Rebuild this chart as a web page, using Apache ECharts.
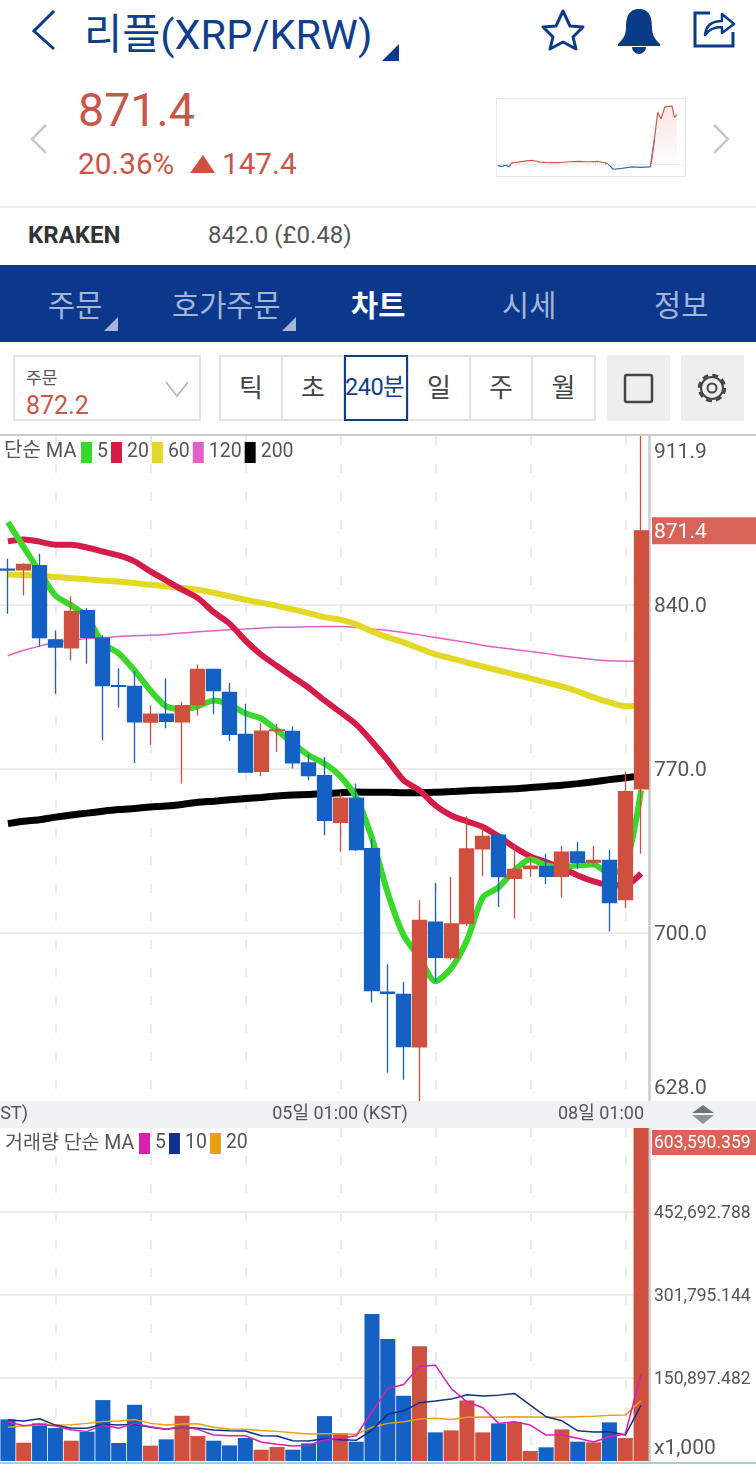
<!DOCTYPE html>
<html lang="ko">
<head>
<meta charset="UTF-8">
<title>리플(XRP/KRW)</title>
<style>
    html, body { margin: 0; padding: 0; background: #fff; }
    body { position: relative; width: 756px; height: 1464px; overflow: hidden;
           font-family: Roboto, "Noto Sans CJK KR", sans-serif; }
    .abs { position: absolute; white-space: nowrap; line-height: 1; }
    .tri { position: absolute; clip-path: polygon(100% 0, 100% 100%, 0 100%); }
    .tab { position: absolute; top: 290px; font-size: 29.5px; line-height: 32px; color: #a3b6da; white-space: nowrap; }
    .cell { position: absolute; top: 355px; height: 66px; box-sizing: border-box; border: 2px solid #e2e2e2;
            font-size: 26px; line-height: 62px; text-align: center; color: #444; }
    .grey { position: absolute; top: 355px; width: 63px; height: 66px; background: #eee; }
    svg { position: absolute; overflow: visible; }
</style>
</head>
<body>
<!--header-->
<svg style="left:0;top:0" width="1" height="1"><path d="M54 11 L34 31 L54 49" fill="none" stroke="#0b3a86" stroke-width="3"/></svg>
<div class="abs" id="title" style="left:84px;top:15px;font-size:41.5px;line-height:40px;color:#0f3f8c">리플(XRP/KRW)</div>
<div class="tri" style="left:382px;top:44px;width:17px;height:17px;background:#0b3a86"></div>
<svg style="left:0;top:0" width="1" height="1">
    <path d="M563 11 L570 26 L583 27 L573 37 L576 49 L563 42 L550 49 L553 37 L543 27 L556 26 Z" fill="none" stroke="#0b3a86" stroke-width="3" stroke-linejoin="round"/>
    <path d="M639 9 C650 9 652 18 652 28 C652 36 656 40 660 44 L660 46 L618 46 L618 44 C622 40 626 36 626 28 C626 18 628 9 639 9 Z" fill="#0b3a86"/>
    <path d="M632 47 A7 7 0 0 0 646 47 Z" fill="#0b3a86"/>
    <path d="M710 13 L695 13 L695 46 L733 46 L733 32" fill="none" stroke="#0b3a86" stroke-width="3"/>
    <path d="M705 35 C706 25 713 21 722 21 L722 14 L734 24 L722 33 L722 27 C714 27 709 29 705 35 Z" fill="none" stroke="#0b3a86" stroke-width="2.5" stroke-linejoin="round"/>
</svg>

<!--price-->
<svg style="left:0;top:0" width="1" height="1">
    <path d="M46 125 L32 139 L46 153" fill="none" stroke="#c4c8cc" stroke-width="2.5"/>
    <path d="M714 125 L728 139 L714 153" fill="none" stroke="#c4c8cc" stroke-width="2.5"/>
</svg>
<div class="abs" style="left:78px;top:87px;font-size:46.5px;color:#c9564b">871.4</div>
<div class="abs" style="left:78px;top:149px;font-size:29.7px;color:#c9564b">20.36%</div>
<svg style="left:0;top:0" width="1" height="1"><path d="M203 155 L215 173 L190 173 Z" fill="#d05040"/></svg>
<div class="abs" style="left:222px;top:149px;font-size:29.7px;color:#c9564b">147.4</div>
<div id="spark" style="position:absolute;left:496px;top:98px;width:190px;height:79px;box-sizing:border-box;border:1px solid #e8e8e8"></div>

<div class="abs" style="left:0;top:206px;width:756px;height:2px;background:#eee"></div>
<div class="abs" style="left:28px;top:222px;font-size:24px;line-height:27px;font-weight:700;color:#333">KRAKEN</div>
<div class="abs" style="left:208px;top:222px;font-size:24px;line-height:27px;color:#555">842.0 (£0.48)</div>

<!--tabs-->
<div class="abs" style="left:0;top:265px;width:756px;height:77px;background:#0b388a"></div>
<div class="tab" style="left:48px">주문</div>
<div class="tri" style="left:104px;top:317px;width:14px;height:14px;background:#a3b6da"></div>
<div class="tab" style="left:172px">호가주문</div>
<div class="tri" style="left:282px;top:317px;width:14px;height:14px;background:#a3b6da"></div>
<div class="tab" style="left:351px;color:#fff;font-weight:700">차트</div>
<div class="tab" style="left:502px">시세</div>
<div class="tab" style="left:654px">정보</div>

<!--toolbar-->
<div class="abs" style="left:13px;top:355px;width:188px;height:66px;box-sizing:border-box;border:2px solid #e2e2e2"></div>
<div class="abs" style="left:26px;top:370px;font-size:17px;color:#555">주문</div>
<div class="abs" style="left:26px;top:393px;font-size:25px;color:#c9564b">872.2</div>
<svg style="left:0;top:0" width="1" height="1"><path d="M166 382 L177 396 L188 382" fill="none" stroke="#b5b9be" stroke-width="1.8"/></svg>
<div class="cell" style="left:219px;width:64px">틱</div>
<div class="cell" style="left:281px;width:64px">초</div>
<div class="cell" style="left:407px;width:64px">일</div>
<div class="cell" style="left:469px;width:64px">주</div>
<div class="cell" style="left:531px;width:65px">월</div>
<div class="cell" style="left:344px;width:64px;border-color:#0f3f8c"></div>
<div class="abs" style="left:345px;top:376px;font-size:23.5px;letter-spacing:-.5px;color:#0f3f8c">240분</div>
<div class="grey" style="left:607px"></div>
<div class="grey" style="left:681px"></div>
<svg style="left:0;top:0" width="1" height="1">
    <rect x="625" y="375" width="27" height="27" rx="2" fill="none" stroke="#444" stroke-width="2.5"/>
    <circle cx="712" cy="388" r="4.5" fill="none" stroke="#444" stroke-width="2"/>
    <circle cx="712" cy="388" r="11" fill="none" stroke="#444" stroke-width="2"/>
    <circle cx="712" cy="388" r="13" fill="none" stroke="#444" stroke-width="2.5" stroke-dasharray="6 4.2"/>
</svg>

<div class="abs" style="left:0;top:434px;width:756px;height:2px;background:#ccc"></div>
<div id="main" style="position:absolute;left:0;top:436px;width:756px;height:1028px"></div>
<svg style="left:0;top:0" width="1" height="1">
    <path d="M703 1105 L714 1113 L692 1113 Z" fill="#6e7378"/>
    <path d="M703 1124 L714 1115 L692 1115 Z" fill="#8d9297"/>
</svg>
<div class="abs" style="left:0;top:1462px;width:756px;height:2px;background:#a9cdd2"></div>

<script src="https://cdn.jsdelivr.net/npm/echarts@6/dist/echarts.min.js"></script>
<script>
    var categories = ['01일 13:00','01일 17:00','01일 21:00','02일 01:00','02일 05:00','02일 09:00','02일 13:00','02일 17:00','02일 21:00',
        '03일 01:00','03일 05:00','03일 09:00','03일 13:00','03일 17:00','03일 21:00','04일 01:00','04일 05:00','04일 09:00','04일 13:00','04일 17:00','04일 21:00',
        '05일 01:00','05일 05:00','05일 09:00','05일 13:00','05일 17:00','05일 21:00','06일 01:00','06일 05:00','06일 09:00','06일 13:00','06일 17:00','06일 21:00',
        '07일 01:00','07일 05:00','07일 09:00','07일 13:00','07일 17:00','07일 21:00','08일 01:00','08일 05:00'];

    var opens = [855.1,854.8,856.5,824.9,821.5,837.3,825.6,805.3,805.0,789.8,793.2,789.9,797.2,812.3,802.4,784.5,768.7,786.1,785.8,772.3,766.9,
        747.0,757.3,735.7,674.5,673.5,651.1,704.4,689.2,703.7,735.7,741.5,723.1,727.2,728.2,723.9,734.3,730.0,730.7,714.0,761.3];
    var closes = [854.7,857.1,825.8,821.8,837.0,825.9,805.3,805.0,789.9,793.1,790.1,796.8,812.3,803.2,784.5,768.4,785.9,786.4,772.4,766.9,747.8,
        757.3,735.3,675.1,674.0,651.2,705.1,689.3,703.6,735.6,741.0,723.8,726.9,728.3,723.9,734.2,729.9,730.7,712.7,760.1,871.4];
    var highs = [859.5,857.6,861.6,828.9,843.4,838.4,826.8,812.8,811.5,796.9,808.5,798.5,814.4,812.4,806.4,797.6,789.3,789.1,787.9,776.0,774.8,
        759.6,763.5,740.0,686.4,678.8,713.7,721.2,723.6,749.6,745.0,741.6,737.1,731.7,733.6,737.0,738.6,737.0,735.3,768.7,911.9];
    var lows = [836.0,843.8,822.1,801.9,816.1,814.7,782.0,795.9,772.3,780.1,787.1,763.5,792.6,793.1,781.7,768.3,766.6,777.0,769.9,764.9,741.4,
        734.3,734.7,670.0,640.1,637.1,628.0,678.8,688.4,702.7,724.0,710.8,705.9,723.6,720.5,714.8,727.2,728.6,700.4,710.4,733.6];

    var ma5 = [875.1,864.5,853.8,843.8,839.6,834.6,823.4,819.1,811.8,803.3,796.5,795.2,796.5,799.0,797.3,793.5,791.3,786.2,780.7,775.6,772.1,
        766.6,757.6,740.1,716.7,698.7,689.3,679.1,684.6,696.6,714.9,719.2,726.5,731.2,728.6,727.8,728.6,729.0,725.2,728.2,760.6];
    var ma20 = [866.9,867.7,866.8,865.5,865.5,864.3,862.6,860.9,858.4,854.1,850.2,846.3,842.7,836.7,831.8,824.6,818.5,813.7,809.0,804.4,799.0,
        794.0,788.8,781.5,773.4,764.9,760.6,754.2,749.9,747.4,745.0,741.0,736.3,732.4,730.0,727.3,724.3,721.8,720.1,720.1,725.2];
    var ma60 = [852.8,852.5,852.2,851.7,851.2,850.7,850.2,849.8,849.1,848.4,847.7,847.0,846.3,845.0,843.5,842.0,840.7,839.4,837.9,836.3,834.6,
        833.5,831.5,828.5,825.9,823.8,821.2,818.7,817.0,815.2,813.5,811.8,810.1,808.4,806.7,805.0,802.9,800.3,798.2,796.5,796.9];
    var ma120 = [818.1,820.4,822.2,823.7,824.6,825.4,825.8,826.3,826.6,826.8,827.2,827.8,828.3,828.8,829.2,829.5,829.9,830.2,830.3,830.5,830.6,
        830.6,830.2,829.5,828.9,828.0,827.0,825.9,824.8,823.8,822.5,821.6,820.8,819.9,819.1,818.0,817.2,816.5,815.9,815.7,815.9];
    var ma200 = [746.4,747.4,748.1,749.2,750.1,750.9,751.7,752.4,752.9,753.5,753.9,754.6,755.5,756.0,756.6,757.1,757.6,758.2,758.6,758.9,759.2,
        759.6,759.9,759.8,759.8,759.6,759.6,759.8,760.1,760.5,760.7,761.0,761.3,761.8,762.3,762.8,763.5,764.3,765.2,766.0,766.8];

    var volumes = [75400,33200,68200,59700,36800,53100,110400,32600,101900,27800,39200,82000,45200,36800,28300,41600,20500,25300,20500,32000,81400,
        50700,35000,266600,221300,118200,208100,51900,55500,109800,51900,68200,70600,18100,24800,57300,35000,33800,70000,41600,603590.359];
    var volMa5 = [71100,63900,66400,63300,56100,53700,65100,59200,68200,62100,57400,62100,57400,47000,45800,45800,34400,30200,27100,28400,38000,
        41100,45800,89200,131500,138800,171900,173700,131500,107300,96400,68200,71100,65100,47000,47000,41100,34400,44000,48900,157400];
    var volMa10 = [74200,72400,76500,65100,59200,59200,66400,65100,66400,61000,57400,61000,59200,56100,54800,54300,45800,45200,36700,36200,40300,
        38500,37500,56100,85000,91000,105500,108600,112200,120000,117600,119400,122500,101300,80200,72900,54800,52500,53000,47000,101300];
    var volMa20 = [61000,63300,65100,65100,65700,68200,71800,72400,75400,68200,65100,66900,67500,61000,57900,57400,55500,53700,51200,48900,49400,
        49400,48300,61000,68200,71100,76000,77300,75400,79100,79600,79100,80200,79600,79100,79600,80200,80900,82700,83200,109100];

    var priceTicks = [628, 700, 770, 840, 871.4, 911.9];
    var priceGrid = [700, 770, 840];
    var volTicks = [0, 150897.482, 301795.144, 452692.788, 603590.359];
    var volTickLabels = ['x1,000', '150,897.482', '301,795.144', '452,692.788', '603,590.359'];

    var sparkTimes = [2,10,18,25,32,45,60,75,90,110,130,150,170,190,210,225,235,242,260,280,300,320,328,335,342,350,365,370,375];
    var sparkValues = [721.1,717.2,722.0,716.2,729.0,730.9,734.8,735.8,730.9,729.0,729.0,731.9,732.8,731.9,732.8,729.0,721.1,709.3,712.2,716.2,715.2,716.2,797.5,880.8,861.2,897.5,899.5,866.0,874.0];
    var prevClose = 724;

    var red = '#d05040', blue = '#1560c4', labelColor = '#555';
    var font = 'Roboto, "Noto Sans CJK KR", sans-serif';

    function maLine(name, data, color, width, xIdx) {
        return {
            name: name, type: 'line', data: data, xAxisIndex: xIdx, yAxisIndex: xIdx,
            showSymbol: false, silent: true, z: xIdx == 0 ? 2 : 4,
            smooth: xIdx == 0 ? 0.25 : false,
            itemStyle: {color: color},
            lineStyle: {color: color, width: width}
        };
    }

    function dashedSplit() {
        return {
            show: true, alignWithLabel: true,
            interval: function (i) { return (i - 3) % 6 == 0; },
            lineStyle: {color: '#e8eaec', width: 2, type: [9, 19]}
        };
    }

    function legendOf(names, left, top) {
        return {
            data: names, left: left, top: top, itemWidth: 11, itemHeight: 21, itemGap: 3, icon: 'rect',
            selectedMode: false, padding: 0,
            textStyle: {color: labelColor, fontSize: 19.5, fontFamily: font},
            formatter: function (n) { return n.replace(/\D/g, ''); }
        };
    }

    function paneText(text, x, y, align, size) {
        return {
            type: 'text', x: x, y: y, z: 20,
            style: {text: text, fill: labelColor, font: size + 'px ' + font, textAlign: align, textVerticalAlign: 'middle'}
        };
    }

    var myChart = echarts.init(document.getElementById('main'));
    var option = {
        animation: false,
        textStyle: {fontFamily: font},
        legend: [
            legendOf(['MA5', 'MA20', 'MA60', 'MA120', 'MA200'], 81, 6),
            legendOf(['VMA5', 'VMA10', 'VMA20'], 139, 697)
        ],
        grid: [
            {left: 0, top: 0, width: 649, height: 665, outerBoundsMode: 'none'},
            {left: 0, top: 692, width: 649, height: 333, outerBoundsMode: 'none'}
        ],
        xAxis: [
            {type: 'category', gridIndex: 0, data: categories, boundaryGap: true,
                axisLine: {show: false}, axisTick: {show: false}, axisLabel: {show: false}, splitLine: dashedSplit()},
            {type: 'category', gridIndex: 1, data: categories, boundaryGap: true,
                axisLine: {show: false}, axisTick: {show: false}, axisLabel: {show: false}, splitLine: dashedSplit()}
        ],
        yAxis: [
            {type: 'value', gridIndex: 0, position: 'right', min: 628, max: 911.9,
                axisLine: {show: true, lineStyle: {color: '#c8cacc', width: 2.5}},
                axisTick: {show: false, customValues: priceGrid},
                splitLine: {show: true, lineStyle: {color: '#ececec', width: 2}},
                axisLabel: {
                    customValues: priceTicks, margin: 3, fontSize: 21, color: labelColor,
                    showMinLabel: true, showMaxLabel: true,
                    verticalAlignMinLabel: 'bottom', verticalAlignMaxLabel: 'top',
                    formatter: function (v) {
                        if (v == 871.4) return '{box|871.4}';
                        if (v == 911.9) return '{top|911.9}';
                        if (v == 628) return '{low|628.0}';
                        return '{t|' + v.toFixed(1) + '}';
                    },
                    rich: {
                        t: {fontSize: 21, color: labelColor, lineHeight: 28, padding: [5, 0, 0, 2], fontFamily: font},
                        top: {fontSize: 21, color: labelColor, lineHeight: 34, padding: [0, 0, 0, 2], fontFamily: font},
                        low: {fontSize: 21, color: labelColor, lineHeight: 24, padding: [0, 0, 0, 2], fontFamily: font},
                        box: {fontSize: 21, color: '#fff', backgroundColor: '#d96358', width: 102, height: 24, lineHeight: 24, padding: [3, 0, 0, 2], fontFamily: font}
                    }
                }},
            {type: 'value', gridIndex: 1, position: 'right', min: 0, max: 603590.359, interval: 603590.359 / 4,
                axisLine: {show: true, lineStyle: {color: '#c8cacc', width: 2.5}},
                axisTick: {show: false},
                splitLine: {show: true, showMinLine: false, showMaxLine: false, lineStyle: {color: '#ececec', width: 2}},
                axisLabel: {
                    customValues: volTicks, margin: 3, fontSize: 17.5, color: labelColor,
                    verticalAlignMinLabel: 'bottom', verticalAlignMaxLabel: 'top',
                    formatter: function (v) {
                        var s = volTickLabels[volTicks.indexOf(v)];
                        if (v == 603590.359) return '{gap|}\n{box|' + s + '}';
                        if (v == 0) return '{z|' + s + '}';
                        return '{t|' + s + '}';
                    },
                    rich: {
                        gap: {lineHeight: 3, height: 3, fontSize: 1},
                        t: {fontSize: 17.5, color: labelColor, lineHeight: 26, padding: [4, 0, 0, 2], fontFamily: font},
                        z: {fontSize: 21, color: labelColor, lineHeight: 24, padding: [0, 0, 0, 2], fontFamily: font},
                        box: {fontSize: 17.5, color: '#fff', backgroundColor: '#d96358', width: 102, height: 23, lineHeight: 23, padding: [2, 0, 0, 2], fontFamily: font}
                    }
                }}
        ],
        graphic: [
            {type: 'rect', x: 0, y: 665, shape: {width: 756, height: 27}, style: {fill: '#f0f1f4'}, z: 10},
            paneText('02일 01:00 (KST)', 28, 678.5, 'right', 18),
            paneText('05일 01:00 (KST)', 340, 678.5, 'center', 18),
            paneText('08일 01:00', 644, 678.5, 'right', 18),
            paneText('단순 MA', 4, 16, 'left', 20),
            paneText('거래량 단순 MA', 5, 708, 'left', 19.5)
        ],
        series: [
            maLine('MA200', ma200, '#000000', 7, 0),
            maLine('MA120', ma120, '#e060c8', 1.5, 0),
            maLine('MA60', ma60, '#e4d826', 6, 0),
            maLine('MA20', ma20, '#d41c48', 6, 0),
            maLine('MA5', ma5, '#3ad82a', 6, 0),
            {
                name: 'candle', type: 'candlestick', xAxisIndex: 0, yAxisIndex: 0, z: 3, barWidth: '92%',
                data: opens.map(function (v, i) { return [v, closes[i], lows[i], highs[i]]; }),
                itemStyle: {color: red, color0: blue, borderColor: red, borderColor0: blue, borderWidth: 1.3}
            },
            {
                name: 'volume', type: 'bar', xAxisIndex: 1, yAxisIndex: 1, data: volumes, barWidth: '95%', z: 2,
                itemStyle: {color: function (p) { return closes[p.dataIndex] >= opens[p.dataIndex] ? red : blue; }}
            },
            maLine('VMA20', volMa20, '#e8a010', 1.5, 1),
            maLine('VMA10', volMa10, '#12308c', 1.5, 1),
            maLine('VMA5', volMa5, '#d820b0', 1.5, 1)
        ]
    };
    myChart.setOption(option);

    // red above the previous close, blue below; neighbours are kept so the line stays joined
    function sparkPart(isUp) {
        return sparkTimes.map(function (t, i) {
            var inPart = function (v) { return v !== undefined && (v >= prevClose) == isUp; };
            var keep = inPart(sparkValues[i]) || inPart(sparkValues[i - 1]) || inPart(sparkValues[i + 1]);
            return [t, keep ? sparkValues[i] : null];
        });
    }

    function sparkLine(isUp, color, fillTop, fillBottom) {
        return {
            type: 'line', showSymbol: false, data: sparkPart(isUp), z: isUp ? 3 : 2,
            lineStyle: {color: color, width: 1.2},
            areaStyle: {
                origin: prevClose,
                color: new echarts.graphic.LinearGradient(0, 0, 0, 1, [
                    {offset: 0, color: fillTop},
                    {offset: 1, color: fillBottom}
                ])
            }
        };
    }

    var sparkChart = echarts.init(document.getElementById('spark'));
    var sparkBlue = sparkLine(false, '#2a6fb3', 'rgba(42,111,179,0.18)', 'rgba(42,111,179,0.05)');
    sparkBlue.markLine = {silent: true, symbol: 'none', label: {show: false},
        lineStyle: {color: '#dddddd', type: 'dotted', width: 1}, data: [{yAxis: prevClose}]};
    sparkChart.setOption({
        animation: false,
        grid: {left: 0, right: 0, top: 0, bottom: 0, outerBoundsMode: 'none'},
        xAxis: {type: 'value', min: 0, max: 392, show: false},
        yAxis: {type: 'value', min: 689, max: 921, show: false},
        series: [sparkLine(true, '#cc5a4e', 'rgba(204,90,78,0.22)', 'rgba(204,90,78,0.02)'), sparkBlue]
    });
</script>
</body>
</html>
